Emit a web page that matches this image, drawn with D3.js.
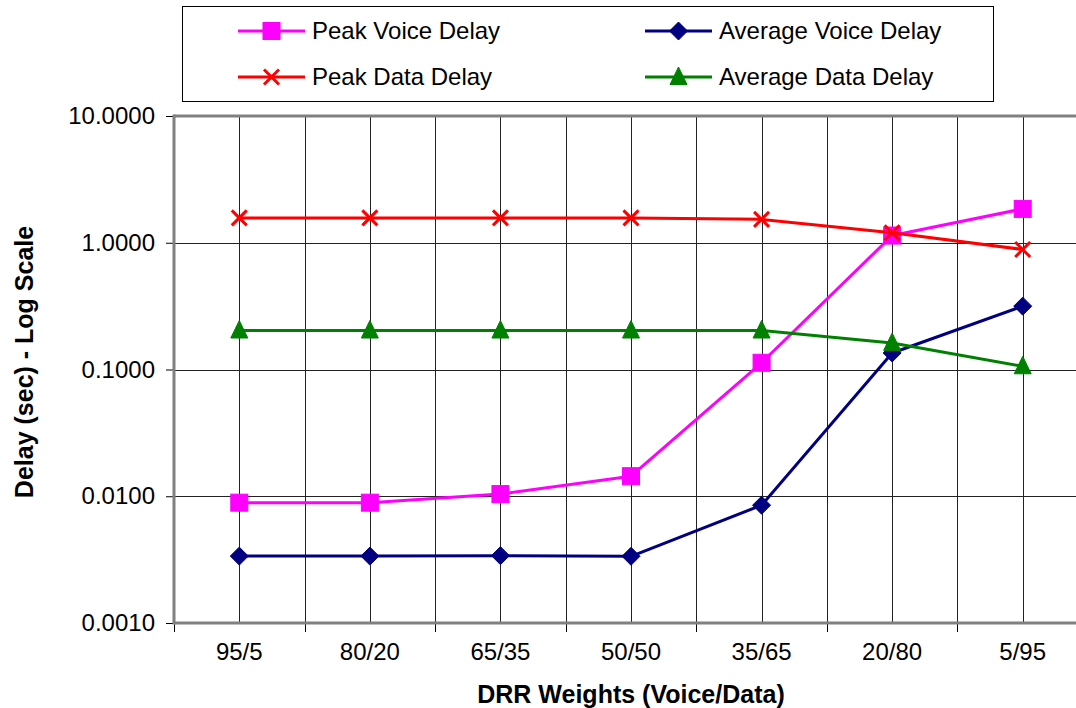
<!DOCTYPE html>
<html>
<head>
<meta charset="utf-8">
<script src="https://cdn.jsdelivr.net/npm/d3@7"></script>
<style>
  html, body { margin: 0; padding: 0; background: #fff; }
  svg { display: block; font-family: "Liberation Sans", Arial, sans-serif; }
</style>
</head>
<body>
<svg id="chart" width="1076" height="708"></svg>
<script>
// DRR weight settings (voice/data)
const categories = ["95/5", "80/20", "65/35", "50/50", "35/65", "20/80", "5/95"];

// Delay in seconds per weight setting
const peakVoiceDelay = [0.0089, 0.0089, 0.0104, 0.0144, 0.113, 1.14, 1.85];
const averageVoiceDelay = [0.00337, 0.00337, 0.0034, 0.00336, 0.0085, 0.135, 0.316];
const peakDataDelay = [1.57, 1.57, 1.57, 1.57, 1.53, 1.2, 0.885];
const averageDataDelay = [0.203, 0.203, 0.203, 0.203, 0.203, 0.162, 0.106];

const yTicks = [0.001, 0.01, 0.1, 1, 10];

const series = [
  { name: "Peak Voice Delay", values: peakVoiceDelay, color: "#FF00FF", marker: "square" },
  { name: "Average Voice Delay", values: averageVoiceDelay, color: "#000080", marker: "diamond" },
  { name: "Peak Data Delay", values: peakDataDelay, color: "#FF0000", marker: "cross" },
  { name: "Average Data Delay", values: averageDataDelay, color: "#008000", marker: "triangle" }
];

const FONT = "Liberation Sans, Arial, sans-serif";
const svg = d3.select("#chart");
const plotLeft = 174, plotRight = 1088, plotTop = 116, plotBottom = 623;

const x = d3.scaleBand().domain(categories).range([plotLeft, plotRight]).padding(0);
const y = d3.scaleLog().domain([0.001, 10]).range([plotBottom, plotTop]);
const cx = d => x(d) + x.bandwidth() / 2;

// Grid: horizontal at decades, vertical at band edges and band centres
const grid = svg.append("g").attr("stroke", "#222").attr("stroke-width", 1);
yTicks.slice(1, -1).forEach(t => {
  grid.append("line").attr("x1", plotLeft).attr("x2", plotRight)
    .attr("y1", Math.round(y(t)) + 0.5).attr("y2", Math.round(y(t)) + 0.5);
});
categories.forEach((c, i) => {
  const xs = [cx(c)];
  if (i > 0) xs.push(x(c));
  xs.forEach(v => {
    grid.append("line").attr("x1", Math.round(v) + 0.5).attr("x2", Math.round(v) + 0.5)
      .attr("y1", plotTop).attr("y2", plotBottom);
  });
});

// Axes
const yAxis = d3.axisLeft(y).tickValues(yTicks).tickFormat(d3.format(".4f")).tickSize(8).tickPadding(11);
const gy = svg.append("g").attr("transform", `translate(${plotLeft},0)`).call(yAxis)
  .attr("font-size", 24).attr("font-family", FONT);
gy.select(".domain").remove();
gy.selectAll(".tick line").attr("stroke", "#000");
gy.selectAll(".tick text").attr("fill", "#000");

const xEdges = categories.map(c => x(c)).concat([plotRight]);
const gx = svg.append("g").attr("transform", `translate(0,${plotBottom})`);
xEdges.forEach(v => {
  gx.append("line").attr("x1", Math.round(v) + 0.5).attr("x2", Math.round(v) + 0.5)
    .attr("y1", 0).attr("y2", 9).attr("stroke", "#000");
});
const xAxis = d3.axisBottom(x).tickSize(0).tickPadding(20);
const gxa = svg.append("g").attr("transform", `translate(0,${plotBottom})`).call(xAxis)
  .attr("font-size", 24).attr("font-family", FONT);
gxa.select(".domain").remove();
gxa.selectAll(".tick text").attr("fill", "#000");

// Plot frame lines (left, bottom, top) in gray
const frame = svg.append("g").attr("stroke", "#808080").attr("stroke-width", 3).attr("fill", "none");
frame.append("line").attr("x1", plotLeft).attr("x2", plotLeft).attr("y1", plotTop - 1.5).attr("y2", plotBottom + 1.5);
frame.append("line").attr("x1", plotLeft).attr("x2", plotRight).attr("y1", plotBottom).attr("y2", plotBottom);
frame.append("line").attr("x1", plotLeft).attr("x2", plotRight).attr("y1", plotTop).attr("y2", plotTop);

// Marker drawing
function drawMarker(g, type, color, px, py) {
  if (type === "square") {
    g.append("rect").attr("x", px - 8.5).attr("y", py - 8.5).attr("width", 17).attr("height", 17)
      .attr("fill", color).attr("stroke", color).attr("stroke-width", 1);
  } else if (type === "diamond") {
    g.append("path").attr("d", `M${px},${py - 9}L${px + 9},${py}L${px},${py + 9}L${px - 9},${py}Z`)
      .attr("fill", color).attr("stroke", color).attr("stroke-width", 1);
  } else if (type === "triangle") {
    g.append("path").attr("d", `M${px},${py - 10}L${px + 8.5},${py + 7.5}L${px - 8.5},${py + 7.5}Z`)
      .attr("fill", color).attr("stroke", color).attr("stroke-width", 1);
  } else if (type === "cross") {
    g.append("path").attr("d", `M${px - 7.5},${py - 7.5}L${px + 7.5},${py + 7.5}M${px - 7.5},${py + 7.5}L${px + 7.5},${py - 7.5}`)
      .attr("stroke", color).attr("stroke-width", 3).attr("fill", "none");
  }
}

const line = d3.line().x(d => cx(d.c)).y(d => y(d.v));
series.forEach(s => {
  const g = svg.append("g");
  const pts = categories.map((c, i) => ({ c, v: s.values[i] }));
  g.append("path").datum(pts).attr("d", line).attr("fill", "none")
    .attr("stroke", s.color).attr("stroke-width", 3).attr("stroke-linejoin", "round");
  pts.forEach(p => drawMarker(g, s.marker, s.color, cx(p.c), y(p.v)));
});

// Axis titles
svg.append("text").attr("x", (plotLeft + plotRight) / 2).attr("y", 703)
  .attr("text-anchor", "middle").attr("font-size", 25).attr("font-weight", "bold")
  .text("DRR Weights (Voice/Data)");
svg.append("text").attr("transform", "translate(33,362) rotate(-90)")
  .attr("text-anchor", "middle").attr("font-size", 25).attr("font-weight", "bold")
  .text("Delay (sec) - Log Scale");

// Legend
const legend = svg.append("g");
legend.append("rect").attr("x", 182.5).attr("y", 6.5).attr("width", 811).attr("height", 95)
  .attr("fill", "#fff").attr("stroke", "#000").attr("stroke-width", 1);
const legendCols = [238, 645];
const legendRows = [31, 77];
series.forEach((s, i) => {
  const lx = legendCols[i % 2], ly = legendRows[Math.floor(i / 2)];
  const g = legend.append("g");
  g.append("line").attr("x1", lx).attr("x2", lx + 67).attr("y1", ly).attr("y2", ly)
    .attr("stroke", s.color).attr("stroke-width", 3);
  drawMarker(g, s.marker, s.color, lx + 33.5, ly);
  g.append("text").attr("x", lx + 74).attr("y", ly).attr("dy", "0.35em")
    .attr("font-size", 24).text(s.name);
});
</script>
</body>
</html>
